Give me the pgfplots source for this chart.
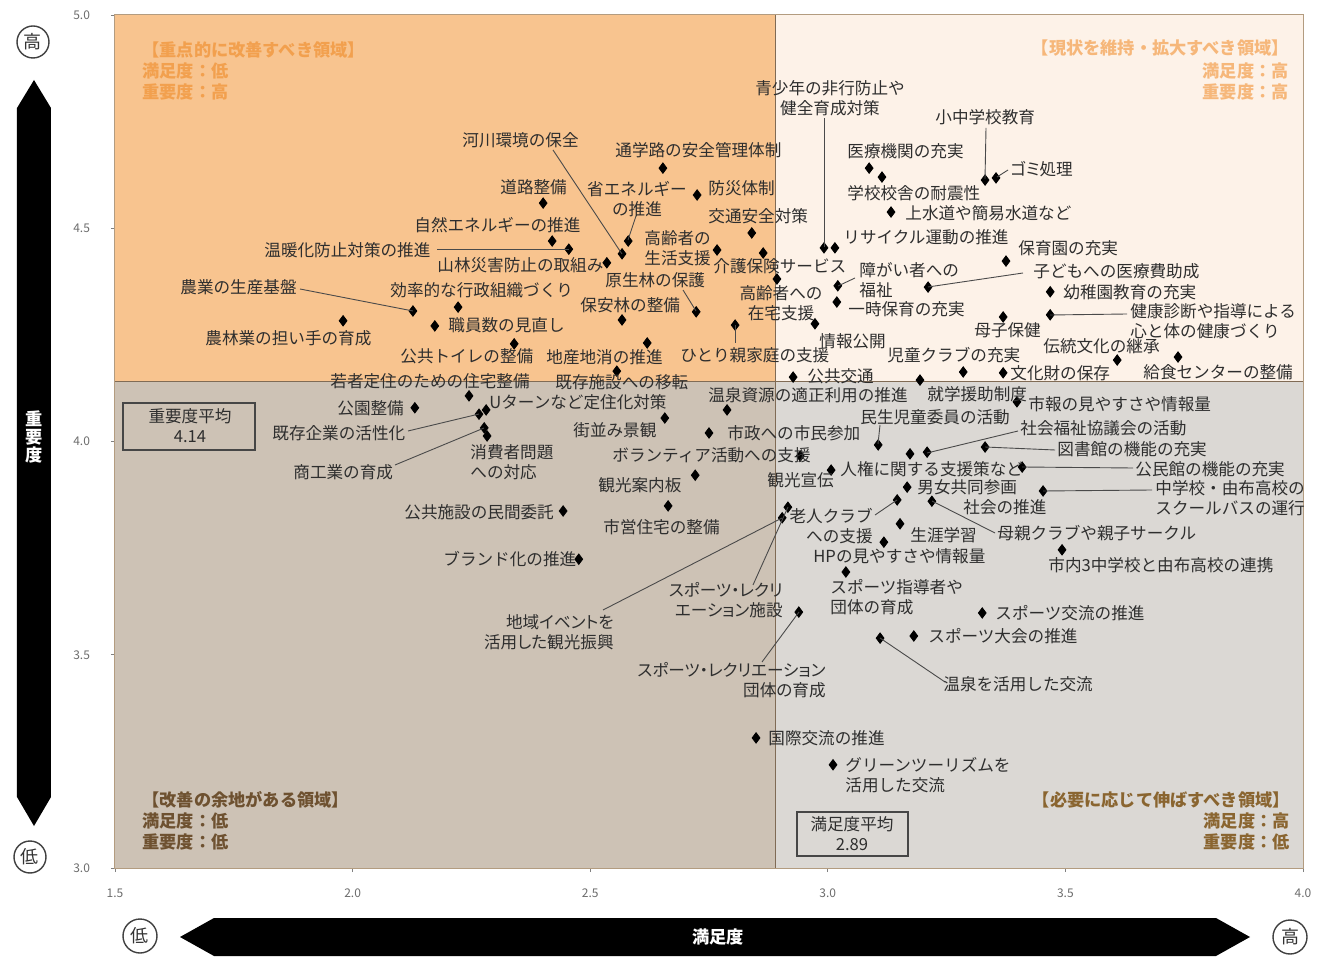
\documentclass[border=0pt]{standalone}
\usepackage{fontspec}
\setmainfont{Noto Sans CJK JP}
\newfontfamily\kana[RawFeature=+palt]{Noto Sans CJK JP}
\usepackage{pgfplots}
\pgfplotsset{compat=1.18}

\definecolor{qTL}{HTML}{F8C48F}
\definecolor{qTR}{HTML}{FDF2E8}
\definecolor{qBL}{HTML}{CDC2B5}
\definecolor{qBR}{HTML}{DBD8D4}
\definecolor{labC}{HTML}{2E2E2E}
\definecolor{lineC}{HTML}{4A4A4A}
\definecolor{frameC}{HTML}{B39C80}
\definecolor{divC}{HTML}{806B55}
\definecolor{cornerO}{HTML}{F2A04E}
\definecolor{cornerO2}{HTML}{F6B77A}
\definecolor{cornerB}{HTML}{6E5130}
\definecolor{cornerB2}{HTML}{8A6530}

% label at pixel position (left edge, middle)
\newcommand\lb[3]{\node[anchor=west] at (#1,#2) {#3};}

\begin{document}
\begin{tikzpicture}[pix/.style={shift={(-57.5pt,434pt)},x=0.5pt,y=-0.5pt}]
\begin{scope}[pix]
\useasboundingbox (0,0) rectangle (1322,959);
\end{scope}

\begin{axis}[at={(0,0)}, anchor=south west,
  scale only axis, width=594pt, height=426.5pt,
  xmin=1.5, xmax=4, ymin=3, ymax=5,
  xtick={1.5,2.0,2.5,3.0,3.5,4.0},
  ytick={3.0,3.5,4.0,4.5,5.0},
  xtick pos=left, ytick pos=left, tick align=outside,
  major tick length=2pt,
  tick style={draw=gray, line width=0.4pt},
  axis line style={draw=frameC, line width=0.8pt},
  ticklabel style={font=\fontsize{6}{7}\selectfont, text=gray!85!black},
  xticklabel style={yshift=-5pt},
  yticklabel style={xshift=-7pt},
  /pgf/number format/assume math mode=true,
  /pgf/number format/fixed,
  /pgf/number format/fixed zerofill,
  /pgf/number format/precision=1,
  clip=false]
\fill[qTL] (axis cs:1.5,4.14) rectangle (axis cs:2.89,5);
\fill[qTR] (axis cs:2.89,4.14) rectangle (axis cs:4,5);
\fill[qBL] (axis cs:1.5,3) rectangle (axis cs:2.89,4.14);
\fill[qBR] (axis cs:2.89,3) rectangle (axis cs:4,4.14);
\draw[divC, line width=0.7pt] (axis cs:2.89,3) -- (axis cs:2.89,5);
\draw[divC, line width=0.7pt] (axis cs:1.5,4.14) -- (axis cs:4,4.14);

\addplot[only marks, mark=diamond*, mark size=2.6pt, black] table {
x y
2.567 4.440
2.653 4.641
2.401 4.559
2.580 4.470
2.725 4.578
2.840 4.489
2.420 4.470
2.455 4.451
2.535 4.419
2.767 4.449
2.864 4.442
2.723 4.304
2.567 4.285
2.127 4.306
2.222 4.315
2.173 4.271
1.980 4.283
2.340 4.229
2.620 4.231
2.805 4.273
2.245 4.107
2.556 4.165
2.131 4.079
2.281 4.074
2.266 4.064
2.277 4.032
2.283 4.013
2.657 4.055
2.788 4.074
2.750 4.020
2.942 3.966
2.721 3.921
3.007 3.933
2.443 3.837
2.664 3.849
2.476 3.724
2.916 3.846
2.904 3.821
2.939 3.600
2.849 3.305
3.011 3.242
3.110 3.539
3.181 3.544
3.325 3.598
3.038 3.694
3.118 3.764
3.152 3.807
3.146 3.863
3.167 3.893
3.219 3.860
3.453 3.884
3.493 3.746
3.409 3.940
3.331 3.987
3.209 3.975
3.173 3.971
3.106 3.992
3.398 4.093
3.194 4.144
2.927 4.151
3.285 4.163
3.369 4.161
3.609 4.191
3.737 4.198
3.369 4.292
3.468 4.297
3.468 4.351
3.211 4.362
3.375 4.423
3.021 4.365
3.019 4.327
2.973 4.276
2.893 4.381
2.992 4.454
3.015 4.454
3.133 4.538
3.087 4.641
3.114 4.620
3.331 4.613
3.354 4.618
};
\end{axis}

\begin{scope}[pix, every node/.style={inner sep=0pt, text=labC, font=\fontsize{8.3}{9.8}\selectfont}]
% leader lines
\begin{scope}[draw=lineC, line width=0.45pt]
\draw (553,150) -- (622,254);
\draw (636,216) -- (628,240);
\draw (437,249) -- (569,249);
\draw (683,290) -- (696,311);
\draw (300,289) -- (413,311);
\draw (735,325) -- (735,343);
\draw (408,431) -- (479,414);
\draw (395,465) -- (484,428);
\draw (824,118) -- (824,247);
\draw (986,128) -- (985,179);
\draw (997,177) -- (1008,170);
\draw (1023,273) -- (928,287);
\draw (838,286) -- (855,278);
\draw (1050,315) -- (1127,314);
\draw (880,425) -- (878,444);
\draw (927,453) -- (1018,431);
\draw (985,447) -- (1055,450);
\draw (1022,467) -- (1133,468);
\draw (1043,491) -- (1152,490);
\draw (932,501) -- (995,533);
\draw (875,515) -- (897,500);
\draw (603,610) -- (782,518);
\draw (753,585) -- (788,507);
\draw (762,662) -- (799,612);
\draw (880,638) -- (945,682);
\end{scope}

% top-left quadrant labels
\lb{462}{140}{河川環境の保全}
\lb{615}{150}{通学路の安全管理体制}
\lb{500}{187}{道路整備}
\node[align=center] at (637,199) {省エネルギー\\の推進};
\lb{708}{188}{防災体制}
\lb{708}{216}{交通安全対策}
\lb{414}{225}{自然エネルギーの推進}
\lb{264}{250}{温暖化防止対策の推進}
\lb{437}{265}{山林災害防止の取組み}
\node[anchor=west, align=left] at (644,248) {高齢者の\\生活支援};
\lb{713}{266}{介護保険サービス}
\lb{605}{280}{原生林の保護}
\lb{180}{287}{農業の生産基盤}
\lb{390}{290}{効率的な行政組織づくり}
\lb{580}{305}{保安林の整備}
\lb{448}{325}{職員数の見直し}
\lb{205}{338}{農林業の担い手の育成}
\lb{400}{356}{公共トイレの整備}
\lb{546}{357}{地産地消の推進}
\lb{680}{355}{ひとり親家庭の支援}
\lb{330}{381}{若者定住のための住宅整備}
\lb{555}{382}{既存施設への移転}
\node[align=center] at (781,303) {高齢者への\\在宅支援};
\lb{819}{341}{情報公開}

% top-right quadrant labels
\node[align=center] at (830,98) {青少年の非行防止や\\健全育成対策};
\lb{935}{117}{小中学校教育}
\lb{847}{151}{医療機関の充実}
\node[anchor=west, font=\kana\fontsize{8.3}{9.8}\selectfont] at (1010,169) {ゴミ処理};
\lb{847}{193}{学校校舎の耐震性}
\lb{905}{213}{上水道や簡易水道など}
\lb{843}{237}{リサイクル運動の推進}
\lb{1018}{248}{保育園の充実}
\node[anchor=west, align=left] at (859,280) {障がい者への\\福祉};
\lb{1033}{271}{子どもへの医療費助成}
\lb{1063}{292}{幼稚園教育の充実}
\lb{848}{309}{一時保育の充実}
\node[anchor=west, align=left] at (1130,321) {健康診断や指導による\\心と体の健康づくり};
\lb{974}{330}{母子保健}
\lb{1043}{346}{伝統文化の継承}
\lb{887}{355}{児童クラブの充実}
\lb{807}{376}{公共交通}
\lb{1010}{373}{文化財の保存}
\lb{1143}{372}{給食センターの整備}

% bottom-left quadrant labels
\lb{337}{408}{公園整備}
\lb{489}{402}{Uターンなど定住化対策}
\lb{272}{433}{既存企業の活性化}
\lb{573}{430}{街並み景観}
\node[anchor=west, align=left] at (470,462) {消費者問題\\への対応};
\lb{293}{472}{商工業の育成}
\lb{708}{395}{温泉資源の適正利用の推進}
\lb{927}{394}{就学援助制度}
\lb{727}{433}{市政への市民参加}
\lb{612}{455}{ボランティア活動への支援}
\lb{598}{485}{観光案内板}
\lb{767}{480}{観光宣伝}
\lb{404}{512}{公共施設の民間委託}
\lb{603}{527}{市営住宅の整備}
\lb{443}{559}{ブランド化の推進}
\node[anchor=east, align=right, font=\kana\fontsize{8.3}{9.8}\selectfont] at (783,600) {スポーツ・レクリ\\エーション施設};
\node[anchor=east, align=right, font=\kana\fontsize{8.3}{9.8}\selectfont] at (614,632) {地域イベントを\\活用した観光振興};
\node[anchor=east, align=right, font=\kana\fontsize{8.3}{9.8}\selectfont] at (826,680) {スポーツ・レクリエーション\\団体の育成};

% bottom-right quadrant labels
\lb{860}{417}{民生児童委員の活動}
\lb{1028}{404}{市報の見やすさや情報量}
\lb{1020}{428}{社会福祉協議会の活動}
\lb{1057}{449}{図書館の機能の充実}
\lb{840}{469}{人権に関する支援策など}
\lb{1135}{469}{公民館の機能の充実}
\lb{917}{487}{男女共同参画}
\lb{963}{507}{社会の推進}
\node[anchor=west, align=left] at (1155,498) {中学校・由布高校の\\スクールバスの運行};
\node[anchor=east, align=right] at (873,526) {老人クラブ\\への支援};
\lb{910}{535}{生涯学習}
\lb{997}{533}{母親クラブや親子サークル}
\lb{813}{556}{HPの見やすさや情報量}
\lb{1048}{565}{市内3中学校と由布高校の連携}
\node[anchor=west, align=left] at (830,597) {スポーツ指導者や\\団体の育成};
\lb{995}{613}{スポーツ交流の推進}
\lb{928}{636}{スポーツ大会の推進}
\lb{943}{684}{温泉を活用した交流}
\lb{768}{738}{国際交流の推進}
\node[anchor=west, align=left] at (845,775) {グリーンツーリズムを\\活用した交流};

% average boxes
\draw[gray!55!black, line width=0.6pt] (123,403) rectangle (255,450);
\node at (190,416) {重要度平均};
\node at (190,437) {4.14};
\draw[gray!55!black, line width=0.6pt] (797,812) rectangle (908,856);
\node at (852,824) {満足度平均};
\node at (852,845) {2.89};

% quadrant captions
\begin{scope}[every node/.append style={font=\bfseries\fontsize{8.6}{10}\selectfont}]
\node[anchor=west, text=cornerO] at (142,50) {【重点的に改善すべき領域】};
\node[anchor=west, text=cornerO] at (142,71) {満足度：低};
\node[anchor=west, text=cornerO] at (142,92) {重要度：高};
\node[anchor=east, text=cornerO2] at (1289,48) {【現状を維持・拡大すべき領域】};
\node[anchor=east, text=cornerO2] at (1289,71) {満足度：高};
\node[anchor=east, text=cornerO2] at (1289,92) {重要度：高};
\node[anchor=west, text=cornerB] at (142,800) {【改善の余地がある領域】};
\node[anchor=west, text=cornerB] at (142,821) {満足度：低};
\node[anchor=west, text=cornerB] at (142,842) {重要度：低};
\node[anchor=east, text=cornerB2] at (1290,800) {【必要に応じて伸ばすべき領域】};
\node[anchor=east, text=cornerB2] at (1290,821) {満足度：高};
\node[anchor=east, text=cornerB2] at (1290,842) {重要度：低};
\end{scope}

% axis arrows
\fill[black] (34,80) -- (51,108) -- (51,797) -- (34,826) -- (17,797) -- (17,108) -- cycle;
\node[text=white, align=center, font=\bfseries\fontsize{8.6}{8.8}\selectfont] at (34,437) {重\\要\\度};
\fill[black] (180,937) -- (214,918) -- (1216,918) -- (1250,937) -- (1216,956) -- (214,956) -- cycle;
\node[text=white, font=\bfseries\fontsize{8.6}{10}\selectfont] at (718,937) {満足度};

\begin{scope}[every node/.append style={font=\fontsize{9}{10}\selectfont, text=black!80}]
\draw[fill=white, draw=black!75, line width=0.7pt] (33,42) circle[radius=8pt];
\node at (33,42) {高};
\draw[fill=white, draw=black!75, line width=0.7pt] (30,857) circle[radius=8pt];
\node at (30,857) {低};
\draw[fill=white, draw=black!75, line width=0.7pt] (140,936) circle[radius=8.5pt];
\node at (140,936) {低};
\draw[fill=white, draw=black!75, line width=0.7pt] (1290,937) circle[radius=8.5pt];
\node at (1290,937) {高};
\end{scope}
\end{scope}
\end{tikzpicture}
\end{document}
